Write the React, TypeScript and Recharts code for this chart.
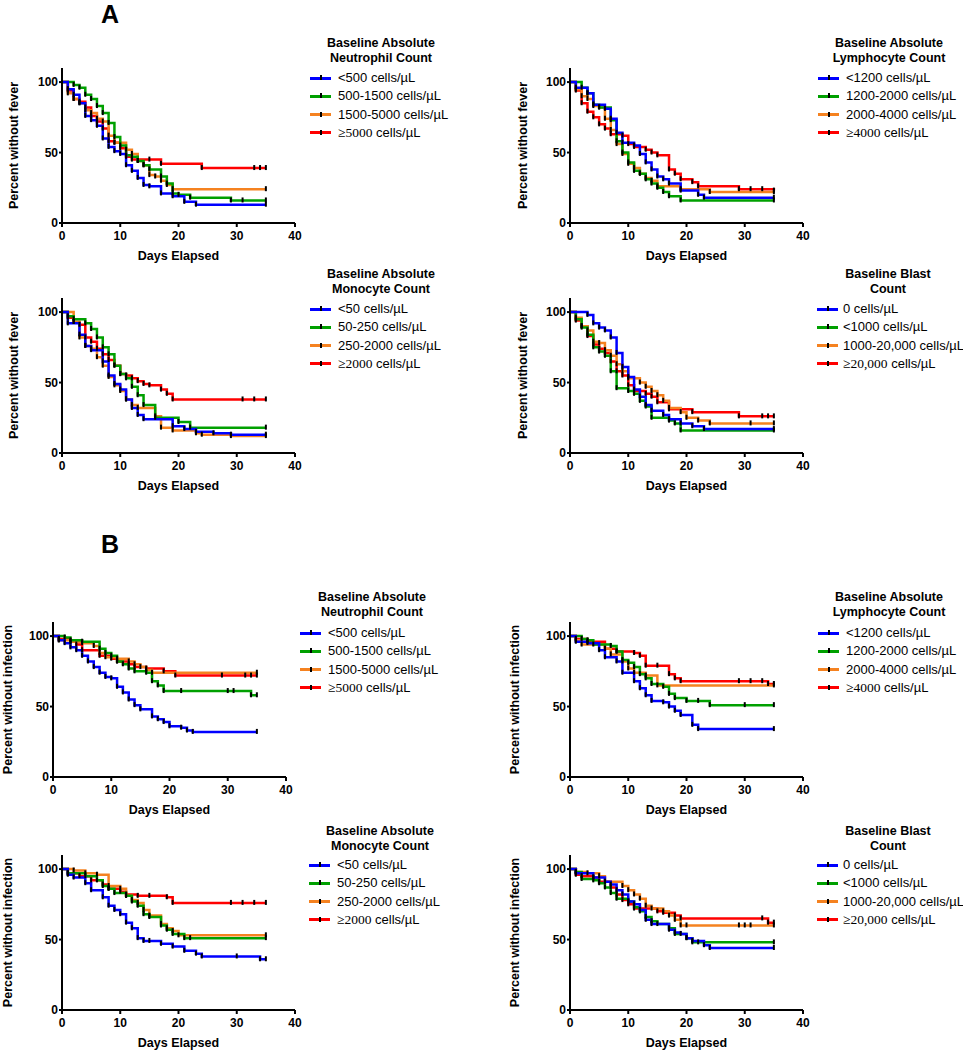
import { LineChart, Line, XAxis, YAxis } from 'recharts';

type Pt = [number, number];

// [day, percent]; repeated values are censored patients
const DAY_TICKS = [0, 10, 20, 30, 40];
const PCT_TICKS = [0, 50, 100];

const NEU_LABELS = ['<500 cells/µL', '500-1500 cells/µL', '1500-5000 cells/µL', '≥5000 cells/µL'];
const LYM_LABELS = ['<1200 cells/µL', '1200-2000 cells/µL', '2000-4000 cells/µL', '≥4000 cells/µL'];
const MON_LABELS = ['<50 cells/µL', '50-250 cells/µL', '250-2000 cells/µL', '≥2000 cells/µL'];
const BLA_LABELS = ['0 cells/µL', '<1000 cells/µL', '1000-20,000 cells/µL', '≥20,000 cells/µL'];

// A: fever
const A_NEU_1: Pt[] = [[0, 100], [1, 95], [2, 91], [3, 85], [4, 76], [5, 73], [6, 69], [7, 60], [8, 54], [9, 51], [10, 49], [11, 41], [12, 37], [13, 32], [14, 27], [15, 26], [17, 21], [19, 19], [21, 15], [23, 13], [35, 13]];
const A_NEU_2: Pt[] = [[0, 100], [2, 98], [3, 96], [4, 91], [5, 88], [6, 83], [7, 78], [8, 71], [9, 61], [10, 55], [11, 48], [12, 47], [13, 44], [14, 41], [15, 38], [17, 33], [18, 28], [19, 21], [20, 20], [22, 18], [29, 16], [31, 16], [35, 16]];
const A_NEU_3: Pt[] = [[0, 100], [1, 92], [2, 88], [3, 85], [4, 80], [5, 78], [6, 74], [7, 72], [8, 62], [9, 57], [11, 52], [12, 49], [13, 44], [14, 41], [15, 34], [16, 33], [17, 30], [18, 27], [19, 24], [35, 24]];
const A_NEU_4: Pt[] = [[0, 100], [1, 94], [2, 88], [3, 86], [4, 82], [5, 76], [6, 72], [7, 67], [8, 58], [9, 57], [10, 53], [11, 47], [12, 45], [15, 45], [17, 42], [24, 39], [33, 39], [34, 39], [35, 39]];

const A_LYM_1: Pt[] = [[0, 100], [1, 96], [3, 92], [4, 84], [6, 81], [7, 74], [8, 64], [9, 57], [11, 55], [12, 49], [13, 43], [14, 38], [15, 33], [16, 31], [17, 28], [19, 23], [22, 20], [23, 18], [35, 18]];
const A_LYM_2: Pt[] = [[0, 100], [2, 96], [3, 92], [4, 84], [5, 82], [7, 73], [8, 58], [9, 50], [10, 43], [11, 37], [12, 35], [13, 31], [14, 28], [15, 25], [16, 22], [17, 19], [19, 16], [35, 16]];
const A_LYM_3: Pt[] = [[0, 100], [1, 95], [2, 90], [3, 88], [4, 83], [5, 82], [6, 74], [7, 66], [8, 56], [9, 49], [10, 42], [11, 39], [12, 35], [13, 32], [14, 30], [15, 26], [19, 24], [24, 22], [35, 22]];
const A_LYM_4: Pt[] = [[0, 100], [1, 94], [2, 85], [3, 79], [4, 75], [5, 70], [6, 67], [7, 63], [9, 62], [10, 56], [11, 54], [13, 52], [14, 50], [15, 48], [17, 38], [18, 35], [19, 31], [21, 29], [22, 26], [29, 24], [31, 24], [33, 24], [35, 23]];

const A_MON_1: Pt[] = [[0, 100], [1, 92], [3, 84], [4, 76], [5, 73], [7, 65], [8, 55], [9, 49], [10, 45], [11, 38], [12, 32], [13, 27], [14, 24], [19, 19], [21, 17], [23, 15], [26, 14], [29, 13], [35, 13]];
const A_MON_2: Pt[] = [[0, 100], [1, 97], [2, 95], [4, 92], [5, 88], [6, 82], [7, 75], [8, 70], [9, 62], [10, 56], [11, 53], [12, 47], [13, 41], [14, 34], [16, 25], [20, 22], [22, 18], [35, 18]];
const A_MON_3: Pt[] = [[0, 100], [2, 93], [3, 82], [4, 76], [5, 74], [6, 68], [7, 62], [8, 54], [9, 48], [10, 44], [11, 38], [12, 34], [13, 32], [16, 26], [17, 18], [19, 16], [23, 14], [24, 13], [29, 12], [35, 12]];
const A_MON_4: Pt[] = [[0, 100], [1, 96], [2, 93], [3, 91], [4, 82], [5, 79], [6, 74], [7, 70], [8, 66], [9, 62], [10, 56], [11, 55], [12, 53], [13, 51], [14, 49], [15, 48], [17, 45], [18, 42], [19, 38], [31, 38], [33, 38], [35, 38]];

const A_BLA_1: Pt[] = [[0, 100], [3, 98], [4, 92], [5, 89], [6, 87], [7, 82], [8, 71], [9, 61], [10, 54], [11, 45], [12, 40], [13, 34], [14, 30], [16, 27], [17, 24], [19, 21], [21, 19], [23, 17], [35, 17]];
const A_BLA_2: Pt[] = [[0, 100], [1, 95], [2, 89], [3, 84], [4, 75], [5, 72], [6, 69], [7, 58], [8, 46], [10, 44], [11, 42], [12, 37], [13, 33], [14, 25], [17, 23], [18, 21], [19, 16], [35, 16]];
const A_BLA_3: Pt[] = [[0, 100], [1, 96], [2, 90], [3, 87], [4, 79], [5, 78], [6, 73], [7, 69], [8, 63], [9, 58], [10, 53], [12, 50], [13, 47], [14, 44], [15, 41], [16, 37], [17, 32], [19, 29], [20, 25], [22, 23], [24, 21], [31, 21], [35, 21]];
const A_BLA_4: Pt[] = [[0, 100], [1, 94], [2, 90], [3, 83], [4, 77], [5, 74], [6, 71], [7, 65], [8, 58], [9, 55], [10, 48], [11, 44], [13, 42], [14, 40], [15, 36], [17, 31], [21, 29], [29, 26], [33, 26], [34, 26], [35, 26]];

// B: infection
const B_NEU_1: Pt[] = [[0, 100], [1, 97], [2, 95], [3, 92], [4, 90], [5, 86], [6, 82], [7, 78], [8, 74], [9, 71], [10, 70], [11, 64], [12, 60], [13, 55], [14, 51], [15, 48], [17, 43], [18, 41], [19, 39], [20, 36], [22, 35], [23, 33], [24, 32], [35, 32]];
const B_NEU_2: Pt[] = [[0, 100], [2, 99], [3, 97], [5, 96], [8, 91], [9, 88], [10, 86], [11, 82], [12, 80], [13, 77], [14, 75], [16, 74], [17, 68], [18, 65], [19, 61], [22, 61], [30, 61], [31, 61], [34, 58], [35, 58]];
const B_NEU_3: Pt[] = [[0, 100], [1, 97], [3, 96], [5, 95], [7, 93], [8, 88], [9, 85], [11, 84], [13, 82], [14, 80], [15, 78], [16, 76], [17, 74], [35, 74]];
const B_NEU_4: Pt[] = [[0, 100], [1, 98], [3, 96], [4, 94], [5, 90], [8, 86], [10, 84], [11, 82], [13, 80], [14, 78], [16, 77], [19, 75], [21, 72], [29, 72], [33, 72], [34, 72], [35, 72]];

const B_LYM_1: Pt[] = [[0, 100], [1, 96], [3, 95], [5, 90], [6, 85], [8, 82], [9, 74], [11, 68], [12, 63], [13, 58], [14, 54], [16, 53], [17, 50], [18, 47], [19, 44], [21, 37], [22, 34], [35, 34]];
const B_LYM_2: Pt[] = [[0, 100], [2, 98], [3, 97], [4, 94], [7, 93], [8, 89], [9, 83], [10, 81], [11, 78], [12, 73], [13, 70], [14, 66], [16, 64], [17, 59], [18, 56], [20, 54], [22, 54], [24, 51], [30, 51], [35, 51]];
const B_LYM_3: Pt[] = [[0, 100], [1, 97], [2, 94], [6, 91], [7, 87], [9, 82], [10, 77], [11, 74], [13, 72], [15, 65], [35, 65]];
const B_LYM_4: Pt[] = [[0, 100], [1, 98], [3, 96], [6, 91], [8, 89], [11, 88], [12, 86], [13, 79], [15, 79], [17, 73], [18, 70], [19, 68], [29, 68], [31, 68], [33, 68], [34, 66], [35, 66]];

const B_MON_1: Pt[] = [[0, 100], [1, 96], [2, 94], [4, 90], [5, 85], [7, 80], [8, 74], [9, 71], [10, 68], [11, 62], [12, 58], [13, 51], [14, 49], [15, 49], [17, 47], [19, 45], [21, 42], [23, 40], [24, 38], [30, 38], [34, 36], [35, 36]];
const B_MON_2: Pt[] = [[0, 100], [1, 97], [4, 95], [6, 92], [7, 88], [8, 86], [9, 83], [11, 81], [12, 77], [13, 74], [14, 68], [15, 66], [17, 60], [18, 57], [19, 54], [21, 51], [22, 51], [35, 51]];
const B_MON_3: Pt[] = [[0, 100], [2, 99], [4, 97], [6, 96], [8, 88], [10, 86], [11, 81], [12, 78], [13, 76], [14, 71], [15, 67], [17, 61], [18, 58], [19, 56], [20, 53], [35, 53]];
const B_MON_4: Pt[] = [[0, 100], [1, 97], [3, 95], [5, 92], [7, 89], [8, 86], [10, 84], [11, 82], [13, 81], [15, 81], [18, 80], [19, 76], [29, 76], [31, 76], [33, 76], [35, 76]];

const B_BLA_1: Pt[] = [[0, 100], [1, 97], [4, 94], [6, 91], [7, 89], [8, 85], [9, 82], [10, 77], [11, 75], [12, 71], [13, 64], [14, 61], [17, 57], [18, 55], [19, 54], [20, 51], [21, 49], [23, 46], [24, 44], [35, 44]];
const B_BLA_2: Pt[] = [[0, 100], [1, 98], [2, 93], [4, 92], [5, 90], [6, 87], [7, 83], [8, 79], [10, 77], [11, 73], [12, 70], [13, 66], [14, 63], [15, 61], [17, 58], [18, 54], [20, 51], [21, 48], [22, 48], [35, 48]];
const B_BLA_3: Pt[] = [[0, 100], [1, 98], [3, 97], [5, 95], [6, 91], [9, 88], [10, 85], [11, 82], [12, 79], [13, 74], [14, 72], [16, 70], [17, 67], [18, 64], [19, 60], [20, 60], [29, 60], [30, 60], [31, 60], [35, 60]];
const B_BLA_4: Pt[] = [[0, 100], [1, 96], [2, 95], [4, 94], [5, 91], [7, 87], [8, 82], [9, 78], [10, 75], [11, 72], [15, 70], [16, 69], [18, 67], [19, 65], [33, 65], [34, 62], [35, 62]];

const COLORS = ['#0000ff', '#00a000', '#f58220', '#ff0000'];
const FONT = '"Liberation Sans", Arial, Helvetica, sans-serif';

const Censor = (props: any) => {
  const { cx, cy, index } = props;
  if (index === 0 || cx == null || cy == null) return <g key={`c-${index}`} />;
  return <rect key={`c-${index}`} x={cx - 1} y={cy - 3} width={2} height={5} fill="#000" />;
};

const PW = 233; // plot width
const PH = 155; // plot height (0..110)
const TM = 6;

interface PanelProps {
  axisX: number;
  plotTop: number;
  chartLeft: number;
  labelX: number;
  yLabel: string;
  series: Pt[][];
}

const KMPanel = ({ axisX, plotTop, chartLeft, labelX, yLabel, series }: PanelProps) => {
  const lw = axisX - chartLeft;
  const order = [3, 2, 1, 0]; // blue drawn last, on top
  return (
    <div style={{ position: 'absolute', left: chartLeft, top: plotTop - TM }}>
      <LineChart width={lw + PW + 14} height={TM + PH + 50} margin={{ top: TM, right: 14, bottom: 0, left: 0 }}>
        <XAxis
          dataKey="d"
          type="number"
          domain={[0, 40]}
          ticks={DAY_TICKS}
          allowDataOverflow
          height={50}
          axisLine={{ stroke: '#000', strokeWidth: 2 }}
          tickLine={{ stroke: '#000', strokeWidth: 2 }}
          tickSize={4}
          tickMargin={4}
          tick={{ fontSize: 12, fontWeight: 'bold', fill: '#000', fontFamily: FONT }}
          label={{ value: 'Days Elapsed', position: 'insideBottom', offset: 13, style: { fontSize: 12.5, fontWeight: 'bold', fill: '#000', fontFamily: FONT } }}
        />
        <YAxis
          type="number"
          domain={[0, 110]}
          ticks={PCT_TICKS}
          allowDataOverflow
          width={lw}
          axisLine={{ stroke: '#000', strokeWidth: 2 }}
          tickLine={{ stroke: '#000', strokeWidth: 2 }}
          tickSize={3}
          tickMargin={1}
          tick={{ fontSize: 12, fontWeight: 'bold', fill: '#000', fontFamily: FONT }}
          label={{ value: yLabel, angle: -90, position: 'insideLeft', offset: labelX - chartLeft, style: { textAnchor: 'middle', fontSize: 12.5, fontWeight: 'bold', fill: '#000', fontFamily: FONT } }}
        />
        {order.map((i) => (
          <Line
            key={i}
            data={series[i].map(([d, p]) => ({ d, p }))}
            dataKey="p"
            type="stepAfter"
            stroke={COLORS[i]}
            strokeWidth={2.5}
            dot={Censor}
            activeDot={false}
            isAnimationActive={false}
          />
        ))}
      </LineChart>
    </div>
  );
};

interface LegendProps {
  cx: number;
  ty: number;
  iy: number;
  lx: number;
  tx: number;
  title: string[];
  labels: string[];
}

const KMLegend = ({ cx, ty, iy, lx, tx, title, labels }: LegendProps) => (
  <>
    {title.map((t, i) => (
      <div
        key={`t${i}`}
        style={{ position: 'absolute', left: cx - 100, width: 200, top: ty + i * 15 - 8, lineHeight: '16px', textAlign: 'center', fontFamily: FONT, fontWeight: 'bold', fontSize: 12.5, color: '#000' }}
      >
        {t}
      </div>
    ))}
    {labels.map((lab, i) => {
      const y = iy + i * 18.3;
      const serif = lab.startsWith('≥');
      const sp = lab.indexOf(' ');
      return (
        <div key={`l${i}`}>
          <div style={{ position: 'absolute', left: lx, top: y - 1.5, width: 21, height: 3, background: COLORS[i] }} />
          <div style={{ position: 'absolute', left: lx + 9.5, top: y - 3, width: 2, height: 5, background: '#000' }} />
          <div style={{ position: 'absolute', left: tx, top: y - 8, lineHeight: '16px', whiteSpace: 'nowrap', fontFamily: FONT, fontSize: 13, color: '#000' }}>
            {serif ? (
              <>
                <span style={{ fontFamily: '"Liberation Serif", "Times New Roman", serif', fontSize: 13.5 }}>{lab.slice(0, sp)}</span>
                {lab.slice(sp)}
              </>
            ) : (
              lab
            )}
          </div>
        </div>
      );
    })}
  </>
);

const FEVER = 'Percent without fever';
const INFECT = 'Percent without infection';

export default function App() {
  return (
    <div style={{ position: 'absolute', left: 0, top: 0, width: 963, height: 1050, background: '#fff' }}>
      <div style={{ position: 'absolute', left: 101, top: 0, fontFamily: FONT, fontWeight: 'bold', fontSize: 25 }}>A</div>
      <div style={{ position: 'absolute', left: 101, top: 530, fontFamily: FONT, fontWeight: 'bold', fontSize: 25 }}>B</div>

      <KMPanel axisX={62} plotTop={68} chartLeft={0} labelX={14} yLabel={FEVER} series={[A_NEU_1, A_NEU_2, A_NEU_3, A_NEU_4]} />
      <KMPanel axisX={570} plotTop={68} chartLeft={508} labelX={523} yLabel={FEVER} series={[A_LYM_1, A_LYM_2, A_LYM_3, A_LYM_4]} />
      <KMPanel axisX={62} plotTop={298} chartLeft={0} labelX={14} yLabel={FEVER} series={[A_MON_1, A_MON_2, A_MON_3, A_MON_4]} />
      <KMPanel axisX={570} plotTop={298} chartLeft={508} labelX={523} yLabel={FEVER} series={[A_BLA_1, A_BLA_2, A_BLA_3, A_BLA_4]} />
      <KMPanel axisX={53} plotTop={622} chartLeft={0} labelX={8} yLabel={INFECT} series={[B_NEU_1, B_NEU_2, B_NEU_3, B_NEU_4]} />
      <KMPanel axisX={570} plotTop={622} chartLeft={508} labelX={515} yLabel={INFECT} series={[B_LYM_1, B_LYM_2, B_LYM_3, B_LYM_4]} />
      <KMPanel axisX={62} plotTop={855} chartLeft={0} labelX={8} yLabel={INFECT} series={[B_MON_1, B_MON_2, B_MON_3, B_MON_4]} />
      <KMPanel axisX={570} plotTop={855} chartLeft={508} labelX={515} yLabel={INFECT} series={[B_BLA_1, B_BLA_2, B_BLA_3, B_BLA_4]} />

      <KMLegend cx={381} ty={43} iy={78} lx={310} tx={338} title={['Baseline Absolute', 'Neutrophil Count']} labels={NEU_LABELS} />
      <KMLegend cx={889} ty={43} iy={78} lx={818} tx={846} title={['Baseline Absolute', 'Lymphocyte Count']} labels={LYM_LABELS} />
      <KMLegend cx={381} ty={274} iy={309} lx={310} tx={338} title={['Baseline Absolute', 'Monocyte Count']} labels={MON_LABELS} />
      <KMLegend cx={888} ty={274} iy={309} lx={817} tx={843} title={['Baseline Blast', 'Count']} labels={BLA_LABELS} />
      <KMLegend cx={372} ty={597} iy={633} lx={300} tx={328} title={['Baseline Absolute', 'Neutrophil Count']} labels={NEU_LABELS} />
      <KMLegend cx={889} ty={597} iy={633} lx={818} tx={846} title={['Baseline Absolute', 'Lymphocyte Count']} labels={LYM_LABELS} />
      <KMLegend cx={380} ty={831} iy={865} lx={309} tx={337} title={['Baseline Absolute', 'Monocyte Count']} labels={MON_LABELS} />
      <KMLegend cx={888} ty={831} iy={865} lx={817} tx={843} title={['Baseline Blast', 'Count']} labels={BLA_LABELS} />
    </div>
  );
}
